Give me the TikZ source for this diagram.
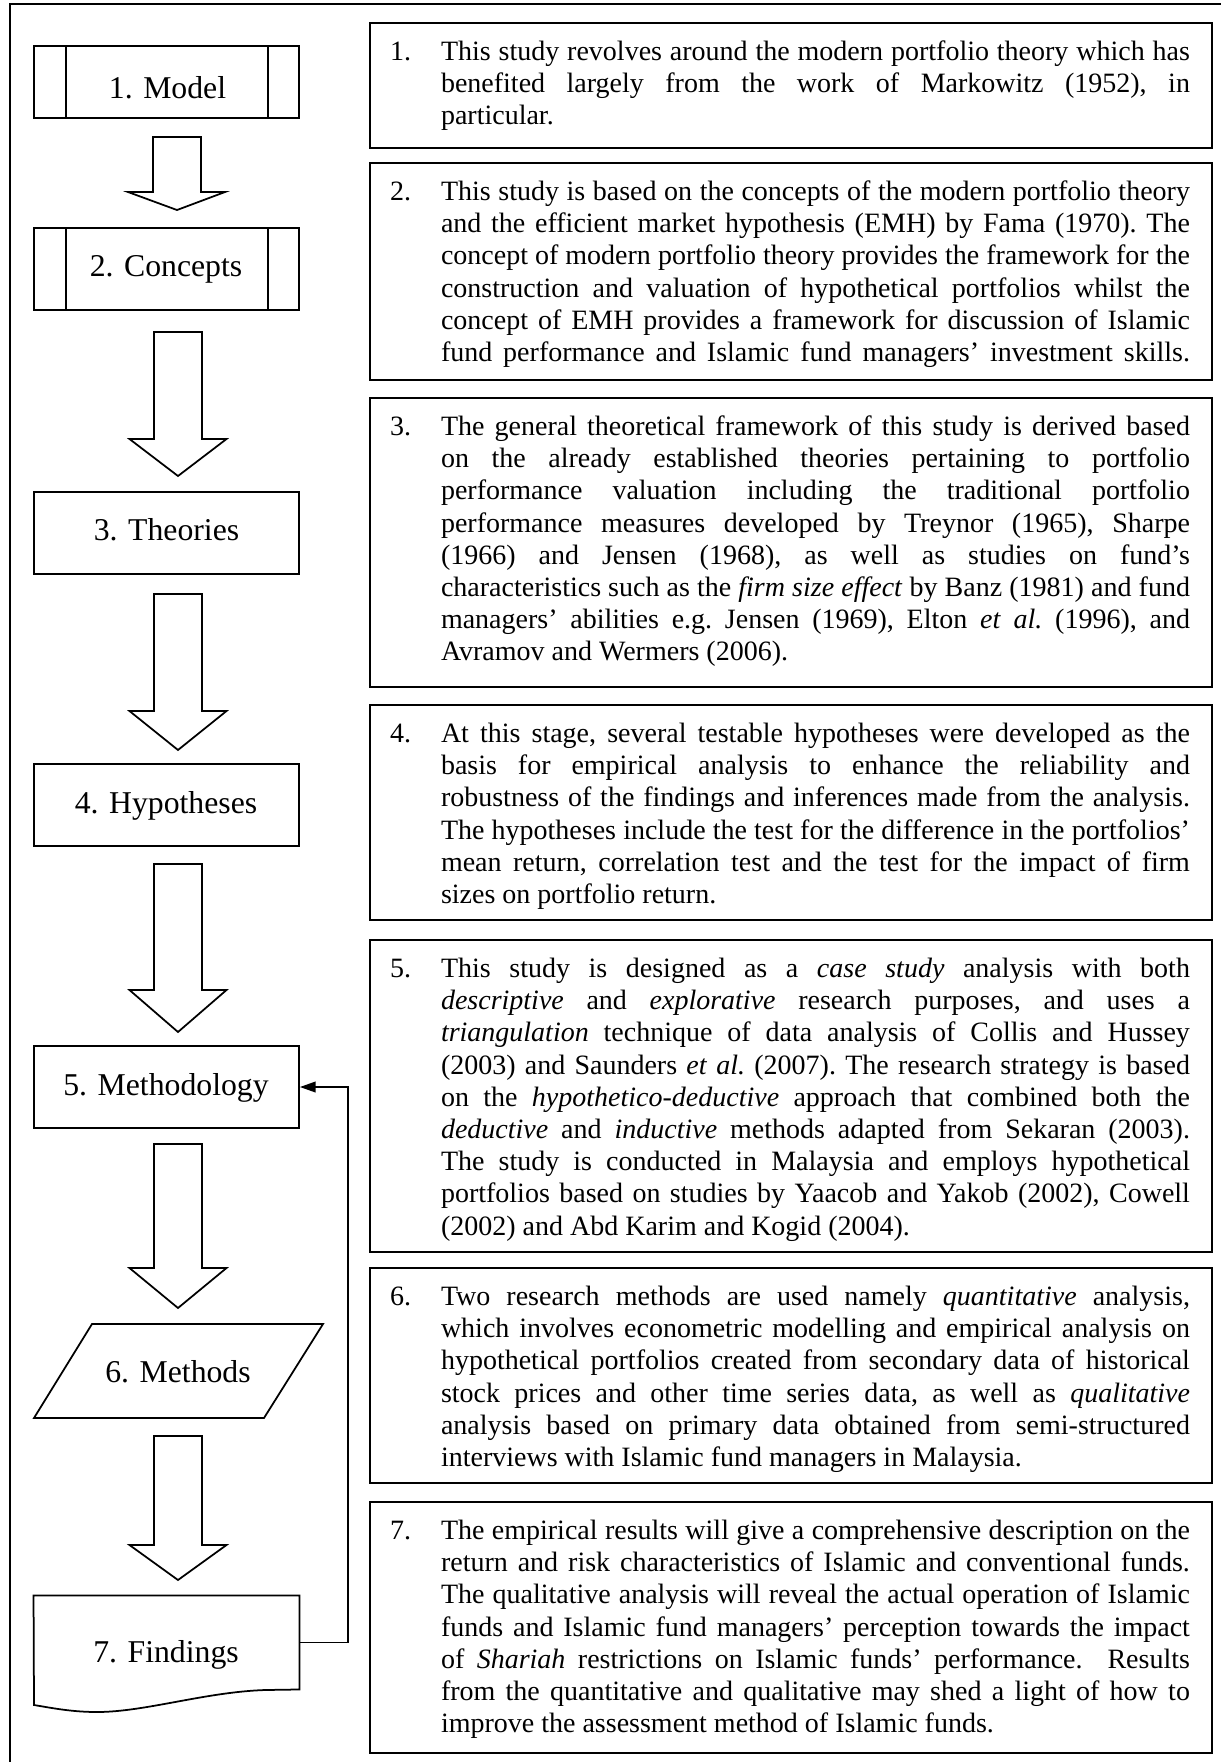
\documentclass[tikz,border=0pt]{standalone}
\usepackage{fontspec}
\setmainfont{Liberation Serif}
\usetikzlibrary{fit,calc,arrows.meta}
\newlength\txw \setlength\txw{321pt}
\newcommand\lfont{\fontsize{13.6}{16.3}\selectfont}
\newcommand\rfont{\fontsize{12}{13.8}\selectfont}
\newcommand\curb{0}
\makeatletter
\newdimen\wx \newdimen\wsum \newdimen\wgap \newdimen\wtmp \newcount\wn \newcount\wc \newbox\wbox
\def\wrest#1{\if\relax\detokenize{#1}\relax\expandafter\@gobble\else\expandafter\@firstofone\fi}
\def\wmeasure#1 #2\@nil{\setbox\wbox\hbox{\rfont#1}\global\advance\wsum\wd\wbox
  \global\advance\wn\@ne\wrest{#2}{\wmeasure#2\@nil}}
\def\wplace#1 #2\@nil{\global\advance\wc\@ne
  \node[wd,name=w\the\wc,xshift=\the\wx] at (441,\curb) {\setbox0\hbox{#1}\global\wtmp=\wd0 \box0};%
  \global\advance\wx\dimexpr\wtmp+\wgap\relax
  \wrest{#2}{\wplace#2\@nil}}
\newcommand\nextl{\pgfmathsetmacro\curb{\curb+32.2}\global\let\curb\curb}
\newcommand\bstart[1]{\pgfmathsetmacro\curb{#1+37.5}\global\let\curb\curb}
\newcommand\jl[1]{\global\wsum=\z@\global\wn=\z@\global\advance\wc\@ne
  \node[inner sep=0pt,outer sep=0pt,name=m\the\wc] at (441,\curb) {\wmeasure#1 \@nil};%
  \ifnum\wn>\@ne\global\wgap=\dimexpr(\txw-\wsum)/\numexpr\wn-1\relax\relax\else\global\wgap=\z@\fi
  \global\wx=\z@\wplace#1 \@nil\nextl}
\newcommand\fl[2]{\global\advance\wc\@ne\node[wd,name=w\the\wc] at (390,\curb) {#1};\jl{#2}}
\newcommand\lastl[1]{\global\advance\wc\@ne\node[wd,name=w\the\wc] at (441,\curb) {#1};\nextl}
\makeatother
% block arrow: top y, shoulder y, tip y
\newcommand\barrow[3]{\draw[bk] (154,#1) -- (202,#1) -- (202,#2) -- (226.5,#2) -- (178,#3) -- (129.5,#2) -- (154,#2) -- cycle;}
\begin{document}
\begin{tikzpicture}[x=0.42857pt,y=-0.42857pt,
  frame/.style={draw,line width=0.8pt},
  lbox/.style={draw,line width=0.75pt,inner sep=0pt},
  lline/.style={draw,line width=0.75pt},
  ltext/.style={anchor=base,inner sep=0pt,font=\lfont},
  rbox/.style={draw,line width=0.9pt,inner sep=0pt},
  wd/.style={anchor=base west,inner sep=0pt,outer sep=0pt,font=\rfont},
  bk/.style={draw,line width=0.75pt,fill=white,line join=miter},
  fb/.style={draw,line width=0.75pt,-{Triangle[length=6.8pt,width=4.6pt]}}]
\useasboundingbox (0,0) rectangle (1221,1762);
\clip (0,0) rectangle (1221,1762);
\draw[frame] (10,4) rectangle (1240,1790);

% ---------- left column ----------
\node[lbox, fit={(34,46)(299,118)}] (model) {};
\draw[lline] ($(model.north west)+(33,0)$) -- ($(model.south west)+(33,0)$);
\draw[lline] ($(model.north east)+(-32,0)$) -- ($(model.south east)+(-32,0)$);
\node[ltext] (modelt) at (167.5,98.5) {1. Model};

\node[lbox, fit={(34,228)(299,310)}] (conc) {};
\draw[lline] ($(conc.north west)+(33,0)$) -- ($(conc.south west)+(33,0)$);
\draw[lline] ($(conc.north east)+(-32,0)$) -- ($(conc.south east)+(-32,0)$);
\node[ltext] (conct) at (166,276.5) {2. Concepts};

\node[lbox, fit={(34,492)(299,574)}] (theo) {};
\node[ltext] (theot) at (166.5,540.5) {3. Theories};

\node[lbox, fit={(34,764)(299,846)}] (hyp) {};
\node[ltext] (hypt) at (166,813) {4. Hypotheses};

\node[lbox, fit={(34,1046)(299,1128)}] (meth) {};
\node[ltext] (metht) at (166,1095.5) {5. Methodology};

\draw[lline] (92,1324) -- (323,1324) -- (264,1418) -- (34,1418) -- cycle;
\node[ltext] (methods) at (178,1382.5) {6. Methods};

\node[inner sep=0pt, fit={(34,1596)(299,1689)}] (find) {};
\draw[lline] (find.north west) -- (find.north east) -- (find.south east) -- (265,1690)
  .. controls (205,1692) and (145,1712) .. (97,1712)
  .. controls (72,1712) and (52,1708) .. (34,1705) -- cycle;
\node[ltext] (findt) at (166,1662.5) {7. Findings};

% block arrows
\draw[bk] (153,137) -- (201,137) -- (201,192) -- (225,192) -- (177,210) -- (128,192) -- (153,192) -- cycle;
\barrow{332}{439}{476}
\barrow{594}{711}{750}
\barrow{864}{990}{1032}
\barrow{1144}{1268}{1308}
\barrow{1436}{1545}{1580}

% feedback connector
\coordinate (fbx) at (348,0);
\draw[fb] (find.east) -- (find.east -| fbx) |- (meth.east);

% ---------- right column ----------
\node[rbox, fit={(370,23)(1212,148)}] (b1) {};
\bstart{23}
\fl{1.}{This study revolves around the modern portfolio theory which has}
\jl{benefited largely from the work of Markowitz (1952), in}
\lastl{particular.}

\node[rbox, fit={(370,163)(1212,380)}] (b2) {};
\bstart{163}
\fl{2.}{This study is based on the concepts of the modern portfolio theory}
\jl{and the efficient market hypothesis (EMH) by Fama (1970). The}
\jl{concept of modern portfolio theory provides the framework for the}
\jl{construction and valuation of hypothetical portfolios whilst the}
\jl{concept of EMH provides a framework for discussion of Islamic}
\jl{fund performance and Islamic fund managers’ investment skills.}

\node[rbox, fit={(370,398)(1212,687)}] (b3) {};
\bstart{398}
\fl{3.}{The general theoretical framework of this study is derived based}
\jl{on the already established theories pertaining to portfolio}
\jl{performance valuation including the traditional portfolio}
\jl{performance measures developed by Treynor (1965), Sharpe}
\jl{(1966) and Jensen (1968), as well as studies on fund’s}
\jl{characteristics such as the \textit{firm} \textit{size} \textit{effect} by Banz (1981) and fund}
\jl{managers’ abilities e.g. Jensen (1969), Elton \textit{et} \textit{al.} (1996), and}
\lastl{Avramov and Wermers (2006).}

\node[rbox, fit={(370,705)(1212,920)}] (b4) {};
\bstart{705}
\fl{4.}{At this stage, several testable hypotheses were developed as the}
\jl{basis for empirical analysis to enhance the reliability and}
\jl{robustness of the findings and inferences made from the analysis.}
\jl{The hypotheses include the test for the difference in the portfolios’}
\jl{mean return, correlation test and the test for the impact of firm}
\lastl{sizes on portfolio return.}

\node[rbox, fit={(370,940)(1212,1252)}] (b5) {};
\bstart{940}
\fl{5.}{This study is designed as a \textit{case} \textit{study} analysis with both}
\jl{\textit{descriptive} and \textit{explorative} research purposes, and uses a}
\jl{\textit{triangulation} technique of data analysis of Collis and Hussey}
\jl{(2003) and Saunders \textit{et} \textit{al.} (2007). The research strategy is based}
\jl{on the \textit{hypothetico-deductive} approach that combined both the}
\jl{\textit{deductive} and \textit{inductive} methods adapted from Sekaran (2003).}
\jl{The study is conducted in Malaysia and employs hypothetical}
\jl{portfolios based on studies by Yaacob and Yakob (2002), Cowell}
\lastl{(2002) and Abd Karim and Kogid (2004).}

\node[rbox, fit={(370,1268)(1212,1483)}] (b6) {};
\bstart{1268}
\fl{6.}{Two research methods are used namely \textit{quantitative} analysis,}
\jl{which involves econometric modelling and empirical analysis on}
\jl{hypothetical portfolios created from secondary data of historical}
\jl{stock prices and other time series data, as well as \textit{qualitative}}
\jl{analysis based on primary data obtained from semi-structured}
\lastl{interviews with Islamic fund managers in Malaysia.}

\node[rbox, fit={(370,1502)(1212,1753)}] (b7) {};
\bstart{1502}
\fl{7.}{The empirical results will give a comprehensive description on the}
\jl{return and risk characteristics of Islamic and conventional funds.}
\jl{The qualitative analysis will reveal the actual operation of Islamic}
\jl{funds and Islamic fund managers’ perception towards the impact}
\jl{of \textit{Shariah} restrictions on Islamic funds’ performance. {} Results}
\jl{from the quantitative and qualitative may shed a light of how to}
\lastl{improve the assessment method of Islamic funds.}
\end{tikzpicture}
\end{document}
